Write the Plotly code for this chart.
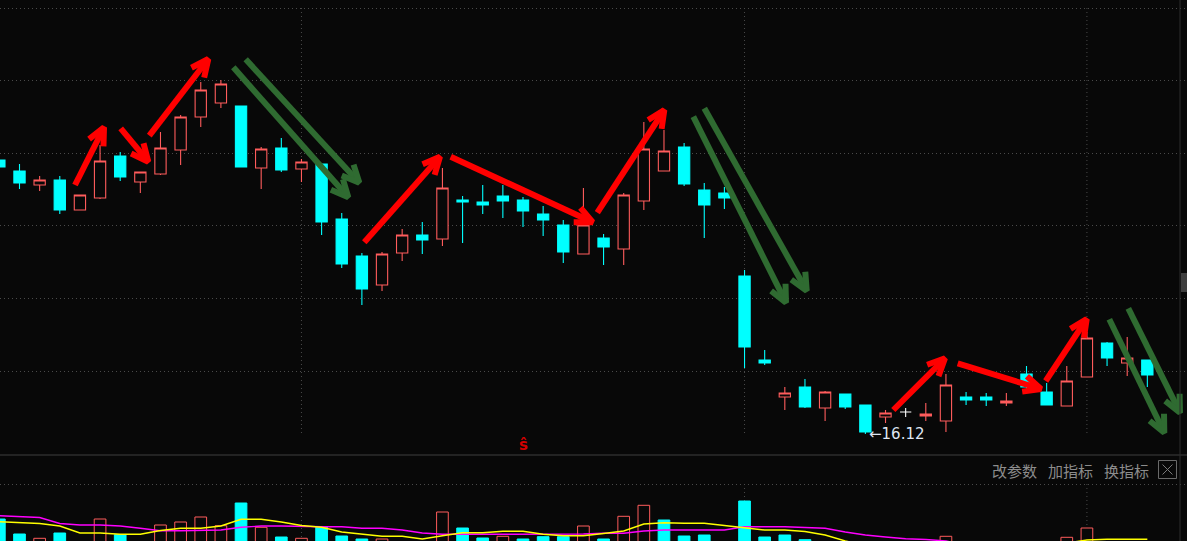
import math
import plotly.graph_objects as go

# ---------------- data ----------------
opens = [18.86, 18.75, 18.61, 18.66, 18.36, 18.48, 18.90, 18.64, 18.72, 18.96,
         19.29, 19.43, 19.40, 18.78, 18.98, 18.77, 18.82, 18.27, 17.90, 17.61,
         17.93, 18.11, 18.07, 18.46, 18.44, 18.50, 18.46, 18.32, 18.21, 17.92,
         18.08, 17.97, 18.45, 18.75, 18.99, 18.56, 18.53, 17.70, 16.86, 16.49,
         16.59, 16.38, 16.52, 16.41, 16.29, 16.34, 16.30, 16.25, 16.49, 16.49,
         16.43, 16.72, 16.54, 16.40, 16.69, 17.03, 16.83, 16.86]
highs = [18.86, 18.82, 18.70, 18.70, 18.51, 19.01, 18.94, 18.74, 19.14, 19.31,
         19.64, 19.66, 19.40, 18.99, 19.08, 18.87, 18.82, 18.33, 17.93, 17.94,
         18.17, 18.24, 18.78, 18.50, 18.61, 18.61, 18.49, 18.40, 18.26, 18.58,
         18.12, 18.53, 19.24, 19.16, 19.03, 18.63, 18.59, 17.76, 16.96, 16.59,
         16.67, 16.55, 16.52, 16.41, 16.36, 16.38, 16.43, 16.72, 16.54, 16.53,
         16.53, 16.80, 16.63, 16.80, 17.14, 17.04, 17.09, 16.86]
lows = [18.79, 18.57, 18.55, 18.32, 18.36, 18.47, 18.65, 18.53, 18.71, 18.81,
        19.19, 19.38, 18.79, 18.57, 18.74, 18.64, 18.11, 17.78, 17.41, 17.55,
        17.85, 17.92, 18.00, 18.03, 18.32, 18.28, 18.19, 18.10, 17.83, 17.92,
        17.81, 17.81, 18.36, 18.75, 18.60, 18.08, 18.37, 16.78, 16.81, 16.36,
        16.38, 16.25, 16.37, 16.12, 16.23, 16.29, 16.25, 16.14, 16.41, 16.40,
        16.40, 16.55, 16.41, 16.40, 16.69, 16.80, 16.70, 16.59]
closes = [18.79, 18.63, 18.66, 18.36, 18.51, 18.85, 18.69, 18.74, 18.98, 19.29,
          19.56, 19.62, 18.79, 18.97, 18.76, 18.84, 18.24, 17.82, 17.57, 17.92,
          18.11, 18.06, 18.58, 18.44, 18.41, 18.45, 18.35, 18.26, 17.94, 18.21,
          17.99, 18.51, 18.97, 18.95, 18.62, 18.41, 18.48, 16.99, 16.83, 16.53,
          16.39, 16.54, 16.39, 16.14, 16.33, 16.34, 16.32, 16.61, 16.46, 16.46,
          16.45, 16.59, 16.41, 16.65, 17.08, 16.88, 16.88, 16.71]
# volume (10k lots)
volumes = [4.6, 3.1, 2.67, 3.2, 2.0, 4.6, 3.03, 2.2, 4.0, 4.3,
           4.8, 3.93, 6.2, 3.77, 2.8, 2.67, 3.83, 2.9, 2.6, 2.6,
           2.1, 1.9, 5.3, 3.7, 2.7, 2.87, 2.6, 2.83, 2.83, 3.9,
           2.6, 4.87, 5.97, 4.5, 2.9, 3.0, 2.0, 6.4, 2.8, 3.0,
           2.53, 2.0, 1.8, 2.2, 1.5, 1.4, 1.6, 2.87, 1.8, 1.5,
           1.4, 2.0, 2.1, 2.77, 3.7, 2.2, 1.9, 1.7]
vol_ma5 = [4.33, 4.25, 4.15, 3.9, 3.2, 3.2, 3.07, 3.07, 3.45, 3.67,
           3.67, 3.9, 4.57, 4.57, 4.3, 3.95, 3.77, 3.3, 3.05, 2.87,
           2.87, 2.6, 2.93, 3.23, 3.23, 3.37, 3.37, 3.07, 2.93, 2.93,
           3.15, 3.4, 4.1, 4.23, 4.17, 4.17, 3.95, 3.7, 3.5, 3.5,
           3.35, 3.0, 2.4, 2.0, 1.9, 1.8, 1.7, 1.8, 1.8, 1.8,
           1.8, 1.9, 2.0, 2.2, 2.5, 2.57, 2.57, 2.57]
vol_ma10 = [4.93, 4.83, 4.75, 4.15, 4.0, 4.0, 3.9, 3.67, 3.43, 3.43,
            3.43, 3.5, 3.77, 3.9, 3.9, 3.83, 3.83, 3.83, 3.67, 3.67,
            3.5, 3.2, 3.07, 3.07, 3.07, 3.07, 3.07, 3.07, 3.07, 3.1,
            3.17, 3.17, 3.4, 3.5, 3.5, 3.5, 3.5, 3.83, 3.83, 3.83,
            3.75, 3.67, 3.3, 3.0, 2.8, 2.63, 2.55, 2.4, 2.0, 1.9,
            1.9, 1.9, 1.9, 1.9, 1.9, 1.9, 1.9, 1.9]
price_grid = [20.38, 19.655, 18.93, 18.205, 17.48, 16.75]
vol_grid = [8.1]
month_marks = [15, 37, 54]
low_label = "←16.12"
low_label_bar = 43
signal_bar = 26
signal_text = "ŝ"
toolbar_labels = ["改参数", "加指标", "换指标"]
# hand-drawn arrows: ((bar, price) start, (bar, price) tip)
red_arrows = [((3.756, 18.61), (5.196, 19.187)),
              ((6.025, 19.177), (7.395, 18.843)),
              ((7.445, 19.103), (10.374, 19.87)),
              ((18.12, 18.037), (21.879, 18.893)),
              ((22.41, 18.893), (29.461, 18.237)),
              ((29.689, 18.333), (33.016, 19.36)),
              ((44.386, 16.36), (46.953, 16.877)),
              ((47.584, 16.827), (51.72, 16.57)),
              ((51.953, 16.65), (53.989, 17.27))]
green_arrows = [((11.616, 19.787), (17.326, 18.487)),
                ((12.231, 19.867), (17.872, 18.633)),
                ((34.456, 19.293), (39.058, 17.433)),
                ((35.002, 19.377), (40.087, 17.553)),
                ((55.111, 17.267), (57.842, 16.133)),
                ((56.055, 17.377), (58.622, 16.333))]

# ---------------- layout constants ----------------
W, H = 1187, 541
BG = "#080808"
RED = "#ff5c5c"
CYAN = "#00ffff"
GRID = "#4a4a4a"
X0_PX, DX = -0.64, 20.14          # pixel of bar 0, pixels per bar
P_TOP, PPP = 20.46, 100.0         # price at top edge, pixels per price unit
MAIN_H = 453                      # height of price panel in px
VOL_TOP = 456
V_BOT, VPP = 2.4, 10.0            # volume at bottom edge, pixels per unit

x_lo = (0 - X0_PX) / DX
x_hi = (W - X0_PX) / DX
n = len(opens)
xs = list(range(n))


def to_px(i, p):
    return X0_PX + DX * i, (P_TOP - p) * PPP


def from_px(px, py):
    return (px - X0_PX) / DX, P_TOP - py / PPP


fig = go.Figure()

# candles split by direction
groups = {
    "up": ([i for i in xs if closes[i] > opens[i]], RED, BG),
    "down": ([i for i in xs if closes[i] < opens[i]], CYAN, CYAN),
    "flat": ([i for i in xs if closes[i] == opens[i]], "#ffffff", "#ffffff"),
}
for name, (idx, lc, fc) in groups.items():
    if not idx:
        continue
    fig.add_trace(go.Candlestick(
        x=idx, open=[opens[i] for i in idx], high=[highs[i] for i in idx],
        low=[lows[i] for i in idx], close=[closes[i] for i in idx],
        increasing=dict(line=dict(color=lc, width=1.1), fillcolor=fc),
        decreasing=dict(line=dict(color=lc, width=1.1), fillcolor=fc),
        whiskerwidth=0, hoverinfo="skip", xaxis="x", yaxis="y", name=name))

# volume bars (colour by close vs previous close)
vcol, vfill = [], []
for i in xs:
    ref = closes[i - 1] if i > 0 else opens[i]
    up = closes[i] > ref
    vcol.append(RED if up else CYAN)
    vfill.append(BG if up else CYAN)
fig.add_trace(go.Bar(x=xs, y=volumes, width=0.58, xaxis="x2", yaxis="y2",
                     marker=dict(color=vfill, line=dict(color=vcol, width=1)),
                     hoverinfo="skip"))
fig.add_trace(go.Scatter(x=xs, y=vol_ma10, mode="lines", xaxis="x2", yaxis="y2",
                         line=dict(color="#ff00ff", width=1.4), hoverinfo="skip"))
fig.add_trace(go.Scatter(x=xs, y=vol_ma5, mode="lines", xaxis="x2", yaxis="y2",
                         line=dict(color="#ffff00", width=1.4), hoverinfo="skip"))


def arrow_trace(start, tip, color, width, arm=19, ang=25):
    sx, sy = to_px(*start)
    tx, ty = to_px(*tip)
    back = math.atan2(sy - ty, sx - tx)
    pts = []
    for s in (-1, 1):
        a = back + s * math.radians(ang)
        pts.append(from_px(tx + arm * math.cos(a), ty + arm * math.sin(a)))
    X = [start[0], tip[0], None, pts[0][0], tip[0], pts[1][0]]
    Y = [start[1], tip[1], None, pts[0][1], tip[1], pts[1][1]]
    return go.Scatter(x=X, y=Y, mode="lines", xaxis="x", yaxis="y",
                      line=dict(color=color, width=width), hoverinfo="skip",
                      cliponaxis=False)


for s, t in green_arrows:
    fig.add_trace(arrow_trace(s, t, "#2f6b31", 6))
for s, t in red_arrows:
    fig.add_trace(arrow_trace(s, t, "#ff0000", 6))

shapes = []
# vertical month gridlines (under the candles)
p_bottom_grid = from_px(0, 433)[1]
for m in month_marks:
    shapes.append(dict(type="line", xref="x", yref="y", x0=m, x1=m, layer="below",
                       y0=p_bottom_grid, y1=price_grid[0],
                       line=dict(color=GRID, width=1, dash="1px,3px")))
    shapes.append(dict(type="line", xref="x2", yref="y2", x0=m, x1=m, layer="below",
                       y0=V_BOT, y1=vol_grid[0],
                       line=dict(color=GRID, width=1, dash="1px,3px")))
# panel separator, right border, scroll block
shapes.append(dict(type="line", xref="paper", yref="paper", x0=0, x1=1,
                   y0=1 - 455 / H, y1=1 - 455 / H, line=dict(color="#2c2c2c", width=1.5)))
shapes.append(dict(type="line", xref="paper", yref="paper", x0=1180 / W, x1=1180 / W,
                   y0=0, y1=1, line=dict(color="#2c2c2c", width=1)))
shapes.append(dict(type="rect", xref="paper", yref="paper", x0=1181 / W, x1=1,
                   y0=1 - 292 / H, y1=1 - 273 / H, line=dict(width=0), fillcolor="#3e3e3e"))
# close box in toolbar
shapes.append(dict(type="rect", xref="paper", yref="paper", x0=1158.5 / W, x1=1176.5 / W,
                   y0=1 - 478.5 / H, y1=1 - 460.5 / H, line=dict(color="#6a6a6a", width=1)))
for (a, b, c, d) in [(1162.5, 464.5, 1172.5, 474.5), (1162.5, 474.5, 1172.5, 464.5)]:
    shapes.append(dict(type="line", xref="paper", yref="paper", x0=a / W, x1=c / W,
                       y0=1 - b / H, y1=1 - d / H, line=dict(color="#7a7a7a", width=1)))

annotations = []
annotations.append(dict(x=low_label_bar + 0.08, y=lows[low_label_bar], xref="x", yref="y",
                        text=low_label, showarrow=False, xanchor="left", yanchor="middle",
                        font=dict(family="DejaVu Sans", size=15, color="#dfe6f3")))
annotations.append(dict(x=signal_bar, y=from_px(0, 445)[1], xref="x", yref="y",
                        text="<b>" + signal_text + "</b>", showarrow=False,
                        xanchor="center", yanchor="middle",
                        font=dict(family="DejaVu Sans", size=15, color="#d40000")))
for lab, x0 in zip(toolbar_labels, [990, 1046, 1102]):
    annotations.append(dict(x=x0 / W, y=1 - 470 / H, xref="paper", yref="paper",
                            text=lab, showarrow=False, xanchor="left", yanchor="middle",
                            font=dict(family="Noto Sans CJK SC", size=15, color="#8c8c8c")))

fig.update_layout(
    width=W, height=H, margin=dict(l=0, r=0, t=0, b=0),
    paper_bgcolor=BG, plot_bgcolor=BG, showlegend=False, boxgap=0.2,
    xaxis=dict(domain=[0, 1], range=[x_lo, x_hi], anchor="y", showgrid=False,
               zeroline=False, showticklabels=False, ticks="",
               rangeslider=dict(visible=False)),
    yaxis=dict(domain=[1 - MAIN_H / H, 1], range=[P_TOP - MAIN_H / PPP, P_TOP],
               tickvals=price_grid, showticklabels=False, ticks="", gridcolor=GRID,
               griddash="1px,3px", zeroline=False),
    xaxis2=dict(domain=[0, 1], range=[x_lo, x_hi], anchor="y2", showgrid=False,
                zeroline=False, showticklabels=False, ticks=""),
    yaxis2=dict(domain=[0, (H - VOL_TOP) / H],
                range=[V_BOT, V_BOT + (H - VOL_TOP) / VPP],
                tickvals=vol_grid, showticklabels=False, ticks="", gridcolor=GRID,
                griddash="1px,3px", zeroline=False),
    shapes=shapes, annotations=annotations,
)

fig.write_html("out.html", config={"displayModeBar": False},
               post_script="document.body.style.margin='0px';"
                           "document.body.style.background='" + BG + "';")
